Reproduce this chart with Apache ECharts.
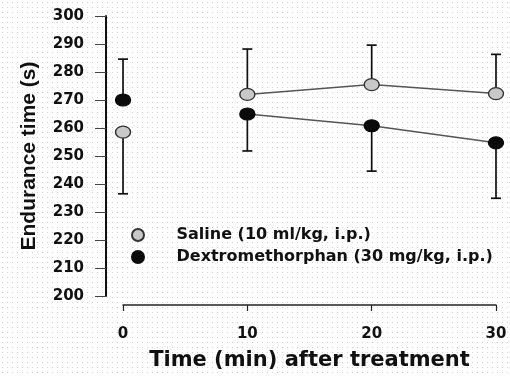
<!DOCTYPE html>
<html>
<head>
<meta charset="utf-8">
<script src="https://cdn.jsdelivr.net/npm/echarts@6/dist/echarts.min.js"></script>
<style>
    html, body { margin: 0; padding: 0; background: #fff; }
    #chart {
        width: 510px;
        height: 376px;
        background-color: #fff;
        background-image: radial-gradient(#cfcfcf 0.7px, transparent 0.9px);
        background-size: 5px 5px;
    }
</style>
</head>
<body>
<div id="chart"></div>
<script>
// minutes after treatment
var times = [0, 10, 20, 30];
var xTicks = [0, 10, 20, 30];

// endurance time (s), mean
var salineMean = [258.5, 272, 275.5, 272.3];
var dexMean = [270, 265, 260.8, 254.7];

// end point of each one-sided error bar
var salineBarEnd = [236.5, 288.2, 289.6, 286.3];
var dexBarEnd = [284.6, 251.8, 244.6, 234.9];

var salineName = 'Saline (10 ml/kg, i.p.)';
var dexName = 'Dextromethorphan (30 mg/kg, i.p.)';

function pairs(ys) {
    return times.map(function (t, i) { return [t, ys[i]]; });
}

function bars(ys, ends) {
    return times.map(function (t, i) { return [t, ys[i], ends[i]]; });
}

function renderBar(params, api) {
    var p1 = api.coord([api.value(0), api.value(1)]);
    var p2 = api.coord([api.value(0), api.value(2)]);
    var cap = 5;
    var st = { stroke: '#111', lineWidth: 1.7 };
    return {
        type: 'group',
        children: [
            { type: 'line', shape: { x1: p1[0], y1: p1[1], x2: p2[0], y2: p2[1] }, style: st },
            { type: 'line', shape: { x1: p2[0] - cap, y1: p2[1], x2: p2[0] + cap, y2: p2[1] }, style: st }
        ]
    };
}

var chart = echarts.init(document.getElementById('chart'));

var option = {
    animation: false,
    grid: [
        { left: 106, right: 14, top: 16, bottom: 80 },
        { left: 123, right: 14, top: 16, bottom: 64 }
    ],
    xAxis: [
        { gridIndex: 0, type: 'value', min: -1.37, max: 30, show: false },
        {
            gridIndex: 1, type: 'value', min: 0, max: 30, interval: 10,
            name: 'Time (min) after treatment',
            nameLocation: 'middle',
            nameGap: 45,
            nameTextStyle: { fontFamily: 'DejaVu Sans', fontWeight: 'bold', fontSize: 21, color: '#111' },
            axisLine: { onZero: false, lineStyle: { color: '#222', width: 1.5 } },
            axisTick: { length: 6, lineStyle: { color: '#222', width: 1.2 } },
            axisLabel: {
                margin: 22,
                fontFamily: 'DejaVu Sans', fontWeight: 'bold', fontSize: 15, color: '#111',
                formatter: function (v) { return xTicks.indexOf(v) >= 0 ? String(v) : ''; }
            },
            splitLine: { show: false }
        }
    ],
    yAxis: [
        {
            gridIndex: 0, type: 'value', min: 200, max: 300, interval: 10,
            name: 'Endurance time (s)',
            nameLocation: 'middle',
            nameGap: 66,
            nameTextStyle: { fontFamily: 'Liberation Sans', fontWeight: 'bold', fontSize: 21, color: '#111' },
            axisLine: { show: true, onZero: false, lineStyle: { color: '#111', width: 2 } },
            axisTick: { show: true, length: 11, lineStyle: { color: '#444', width: 1 } },
            axisLabel: { margin: 22, fontFamily: 'DejaVu Sans', fontWeight: 'bold', fontSize: 15, color: '#111' },
            splitLine: { show: false }
        },
        { gridIndex: 1, type: 'value', show: false }
    ],
    legend: {
        orient: 'vertical',
        left: 126,
        top: 222,
        itemGap: 6,
        itemWidth: 15,
        itemHeight: 12,
        data: [salineName, dexName],
        textStyle: {
            fontFamily: 'DejaVu Sans', fontWeight: 'bold', fontSize: 16, color: '#111',
            padding: [2, 0, 0, 26]
        }
    },
    series: [
        {
            type: 'line', xAxisIndex: 0, yAxisIndex: 0,
            data: pairs(salineMean).slice(1),
            showSymbol: false, silent: true,
            lineStyle: { color: '#555', width: 1.5 }, z: 1
        },
        {
            type: 'line', xAxisIndex: 0, yAxisIndex: 0,
            data: pairs(dexMean).slice(1),
            showSymbol: false, silent: true,
            lineStyle: { color: '#555', width: 1.5 }, z: 1
        },
        {
            type: 'custom', xAxisIndex: 0, yAxisIndex: 0,
            renderItem: renderBar, data: bars(salineMean, salineBarEnd),
            encode: { x: 0, y: [1, 2] }, z: 2
        },
        {
            type: 'custom', xAxisIndex: 0, yAxisIndex: 0,
            renderItem: renderBar, data: bars(dexMean, dexBarEnd),
            encode: { x: 0, y: [1, 2] }, z: 2
        },
        {
            name: salineName, type: 'scatter', xAxisIndex: 0, yAxisIndex: 0,
            data: pairs(salineMean), symbol: 'circle', symbolSize: [15, 12],
            itemStyle: { color: '#c8c8c8', borderColor: '#333', borderWidth: 1.3, opacity: 1 }, z: 3
        },
        {
            name: dexName, type: 'scatter', xAxisIndex: 0, yAxisIndex: 0,
            data: pairs(dexMean), symbol: 'circle', symbolSize: [15, 12],
            itemStyle: { color: '#0a0a0a', borderColor: '#0a0a0a', borderWidth: 1.3, opacity: 1 }, z: 3
        }
    ]
};

chart.setOption(option);
</script>
</body>
</html>
